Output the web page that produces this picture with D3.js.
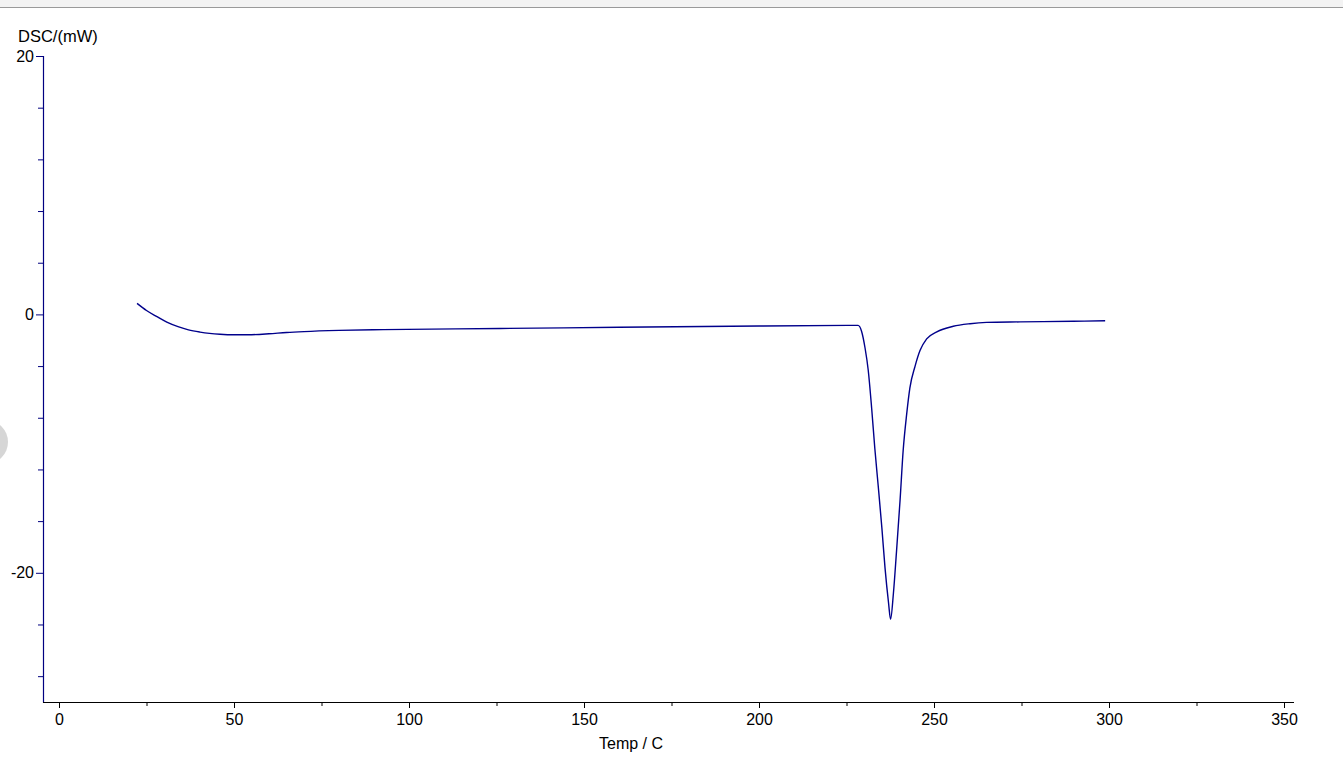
<!DOCTYPE html>
<html><head><meta charset="utf-8">
<script src="https://cdn.jsdelivr.net/npm/d3@7"></script>
<style>html,body{margin:0;padding:0;background:#fff;}svg{display:block;}</style>
</head><body>
<svg id="c" width="1343" height="770"></svg>
<script>
// Data (Temp in C, DSC in mW)
const temps = [22.3, 25, 28, 30.8, 34, 37, 40.3, 43, 46, 50, 55, 60, 65, 70, 80, 92.6, 126, 160, 200, 228.3,
  229.3, 230.3, 231.2, 232.2, 233.1, 234.1, 235.1, 236, 237, 237.6, 238.4, 239.3, 240.3, 241.2, 242.2, 243.1,
  244.6, 246, 247.9, 250.8, 255.5, 260.3, 265, 274.6, 289.8, 298.9];
const dsc = [0.85, 0.3, -0.18, -0.6, -0.95, -1.2, -1.37, -1.47, -1.54, -1.58, -1.57, -1.5, -1.4, -1.33, -1.24, -1.18, -1.09, -1.0, -0.9, -0.85,
  -1.3, -2.6, -4.3, -7.3, -10.4, -13.4, -16.5, -19.6, -22.3, -23.6, -21.6, -18.3, -14.4, -10.5, -7.7, -5.7,
  -4.0, -2.8, -1.9, -1.35, -0.92, -0.72, -0.62, -0.58, -0.53, -0.49];
const xMajorTicks = [0, 50, 100, 150, 200, 250, 300, 350];
const xMinorTicks = [25, 75, 125, 175, 225, 275, 325];
const yMajorTicks = [20, 0, -20];
const yMinorTicks = [16, 12, 8, 4, -4, -8, -12, -16, -24, -28];

const svg = d3.select("#c");
const font = "'Liberation Sans', Arial, sans-serif";

// decorative window artifacts
svg.append("rect").attr("x",0).attr("y",0).attr("width",1343).attr("height",7).attr("fill","#f3f3f3");
svg.append("line").attr("x1",0).attr("x2",1343).attr("y1",7.5).attr("y2",7.5).attr("stroke","#9a9a9a");
svg.append("circle").attr("cx",-14).attr("cy",442).attr("r",22).attr("fill","#d6d6d6");

const x = d3.scaleLinear().domain([0, 350]).range([59, 1284]);
const y = d3.scaleLinear().domain([-30, 20]).range([702, 56]);
const fmt = d => String(d);

// y axis (navy)
const yAxis = svg.append("g").attr("transform","translate(43,0)")
  .call(d3.axisLeft(y).tickValues(yMajorTicks).tickSize(7).tickPadding(2).tickFormat(fmt));
yAxis.select(".domain").remove();
yAxis.selectAll(".tick line").attr("stroke","#000080");
yAxis.selectAll(".tick text").attr("font-family",font).attr("font-size",16).attr("fill","#000");
const yMinor = svg.append("g").attr("transform","translate(43,0)")
  .call(d3.axisLeft(y).tickValues(yMinorTicks).tickSize(5).tickFormat(""));
yMinor.select(".domain").remove();
yMinor.selectAll(".tick line").attr("stroke","#000080");
svg.append("line").attr("x1",43.5).attr("x2",43.5).attr("y1",y(20)).attr("y2",702.5)
  .attr("stroke","#000080").attr("stroke-width",1.2);

// x axis (black)
const xAxis = svg.append("g").attr("transform","translate(0,702)")
  .call(d3.axisBottom(x).tickValues(xMajorTicks).tickSize(6).tickPadding(6).tickFormat(fmt));
xAxis.select(".domain").remove();
xAxis.selectAll(".tick line").attr("stroke","#000");
xAxis.selectAll(".tick text").attr("font-family",font).attr("font-size",16).attr("fill","#000");
const xMinor = svg.append("g").attr("transform","translate(0,702)")
  .call(d3.axisBottom(x).tickValues(xMinorTicks).tickSize(4).tickFormat(""));
xMinor.select(".domain").remove();
xMinor.selectAll(".tick line").attr("stroke","#000");
svg.append("line").attr("x1",43).attr("x2",1294).attr("y1",702.5).attr("y2",702.5)
  .attr("stroke","#000").attr("stroke-width",1.2);

// labels
svg.append("text").attr("x",18).attr("y",42).attr("font-family",font).attr("font-size",16.5)
  .attr("fill","#000").text("DSC/(mW)");
svg.append("text").attr("x",631).attr("y",749).attr("text-anchor","middle").attr("font-family",font)
  .attr("font-size",16).attr("fill","#000").text("Temp / C");

// curve
const pts = temps.map((t,i)=>[t, dsc[i]]);
svg.append("path").datum(pts)
  .attr("fill","none").attr("stroke","#00008b").attr("stroke-width",1.4)
  .attr("d", d3.line().x(d=>x(d[0])).y(d=>y(d[1])).curve(d3.curveMonotoneX));
</script>
</body></html>
